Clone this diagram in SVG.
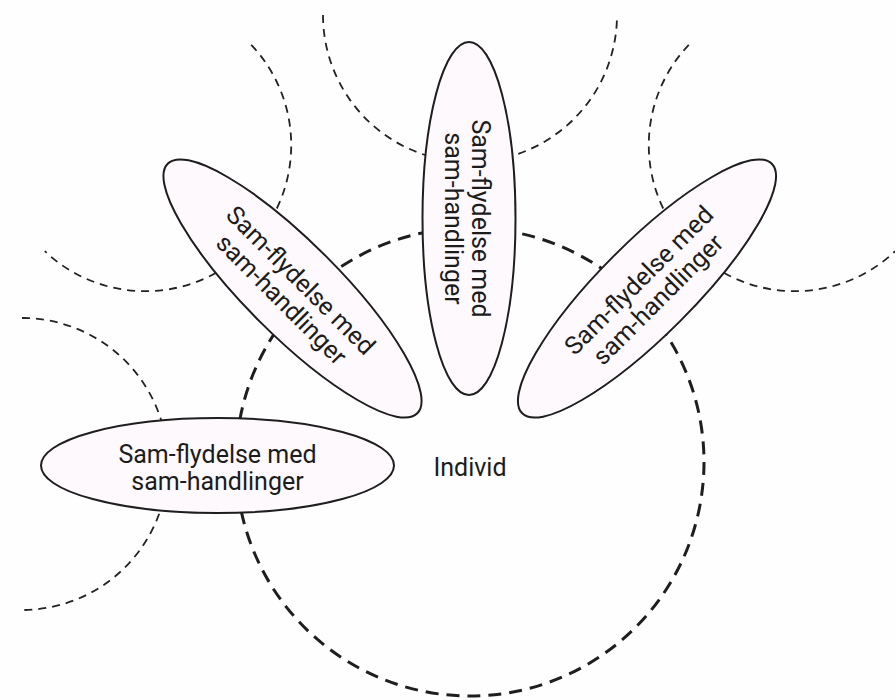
<svg xmlns="http://www.w3.org/2000/svg" width="895" height="700" viewBox="0 0 895 700">
  <style>
    .bg { fill: #fefefe; }
    .other { fill: none; stroke: #222; stroke-width: 1.8; stroke-dasharray: 8 6; }
    .self { fill: none; stroke: #1e1e1e; stroke-width: 3; stroke-dasharray: 13 8; }
    .petal { fill: #fdf9fd; stroke: #1e1e1e; stroke-width: 2; }
    .lbl { font-family: Roboto, "Liberation Sans", sans-serif; font-size: 25px; fill: #1c1c1c; text-anchor: middle; }
  </style>
  <rect class="bg" x="0" y="0" width="895" height="700"/>

  <g id="other-top"><path class="other" d="M 323 15 A 147 147 0 0 0 617 15"/></g>
  <g id="other-upper-left"><path class="other" d="M 251.2 44.8 A 146 146 0 0 1 44.8 251.2"/></g>
  <g id="other-upper-right"><path class="other" d="M 688.8 44.8 A 146 146 0 0 0 895.2 251.2"/></g>
  <g id="other-left"><path class="other" d="M 22 318 A 146 146 0 0 1 22 610"/></g>

  <g id="individ">
    <circle class="self" cx="470" cy="462" r="234"/>
    <text class="lbl" x="470" y="476">Individ</text>
  </g>

  <g id="connectors"></g>

  <g id="petal-top" transform="translate(469,218.5) rotate(90)">
    <ellipse class="petal" cx="0" cy="0" rx="176.5" ry="46.5"/>
    <text class="lbl" x="0" y="-3">Sam-flydelse med</text>
    <text class="lbl" x="0" y="24">sam-handlinger</text>
  </g>

  <g id="petal-upper-left" transform="translate(292.5,288.5) rotate(45)">
    <ellipse class="petal" cx="0" cy="0" rx="176.5" ry="46.5"/>
    <text class="lbl" x="0" y="-3">Sam-flydelse med</text>
    <text class="lbl" x="0" y="24">sam-handlinger</text>
  </g>

  <g id="petal-upper-right" transform="translate(647,288.5) rotate(-45)">
    <ellipse class="petal" cx="0" cy="0" rx="176.5" ry="46.5"/>
    <text class="lbl" x="0" y="-3">Sam-flydelse med</text>
    <text class="lbl" x="0" y="24">sam-handlinger</text>
  </g>

  <g id="petal-left" transform="translate(217.5,465.5)">
    <ellipse class="petal" cx="0" cy="0" rx="176.5" ry="47.5"/>
    <text class="lbl" x="0" y="-3">Sam-flydelse med</text>
    <text class="lbl" x="0" y="24">sam-handlinger</text>
  </g>
</svg>
